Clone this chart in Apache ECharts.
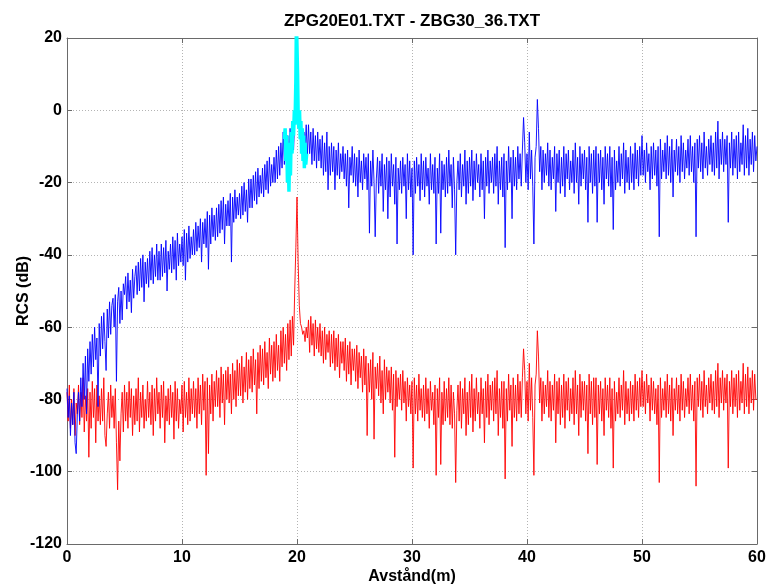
<!DOCTYPE html>
<html>
<head>
<meta charset="utf-8">
<script src="https://cdn.jsdelivr.net/npm/echarts@6/dist/echarts.min.js"></script>
<style>html,body{margin:0;padding:0;background:#fff}#c{width:767px;height:586px}</style>
</head>
<body>
<div id="c"></div>
<script>
// Sample spacing (m) of the two measured curves, starting at 0 m
const STEP = 0.1;
const xTicks = [0, 10, 20, 30, 40, 50, 60];
const yTicks = [-120, -100, -80, -60, -40, -20, 0, 20];

// Blue: ZPG20E01 RCS (dB)
const blueRCS = [
-77,-85,-79,-90,-81,-87,-78,-92,-95,-84,
-78,-86,-74,-82,-70,-80,-68,-84,-66,-75,
-64,-73,-62,-71,-60,-69,-63,-82,-59,-68,
-57,-66,-56,-64,-72,-55,-63,-53,-62,-54,
-52,-60,-51,-75,-53,-49,-59,-50,-58,-48,
-51,-46,-55,-45,-53,-47,-56,-44,-52,-46,
-43,-51,-42,-50,-41,-49,-40,-53,-42,-48,
-41,-49,-39,-47,-38,-48,-40,-46,-37,-47,
-39,-47,-37,-46,-38,-45,-36,-50,-39,-44,
-37,-45,-35,-44,-36,-47,-34,-43,-37,-42,
-35,-43,-33,-47,-34,-42,-32,-41,-35,-40,
-33,-40,-31,-39,-32,-38,-30,-42,-31,-37,
-30,-38,-28,-44,-29,-37,-27,-35,-29,-36,
-27,-35,-26,-34,-25,-33,-24,-37,-26,-32,
-25,-32,-23,-42,-24,-31,-22,-30,-24,-29,
-23,-30,-21,-29,-20,-28,-22,-31,-19,-27,
-19,-27,-18,-25,-17,-26,-16,-24,-18,-23,
-16,-24,-15,-22,-14,-23,-13,-21,-15,-20,
-13,-20,-11,-19,-10,-18,-9,-16,-6,-15,
-8,-16,-7,-14,-5,-12,-4,-11,-3,-2,
5,-3,-4,-8,-5,-12,-6,-11,-4,-13,
-4,-12,-6,-15,-5,-14,-7,-16,-6,-14,
-8,-16,-7,-18,-9,-17,-6,-22,-10,-18,
-9,-17,-10,-22,-11,-18,-9,-19,-12,-17,
-10,-19,-12,-21,-11,-27,-13,-18,-10,-20,
-12,-21,-13,-24,-11,-20,-14,-22,-12,-19,
-13,-22,-12,-34,-14,-21,-11,-20,-35,-19,
-13,-23,-14,-21,-12,-28,-15,-22,-13,-30,
-14,-24,-12,-21,-15,-26,-13,-37,-16,-22,
-14,-23,-13,-21,-15,-30,-12,-22,-14,-24,
-16,-40,-14,-23,-13,-21,-15,-25,-12,-22,
-14,-24,-13,-21,-16,-26,-12,-22,-15,-23,
-13,-37,-16,-23,-12,-34,-14,-22,-15,-24,
-13,-23,-11,-21,-15,-27,-13,-22,-40,-20,
-14,-22,-12,-24,-15,-21,-11,-26,-14,-23,
-13,-21,-11,-25,-14,-22,-12,-20,-15,-24,
-12,-22,-14,-30,-13,-21,-11,-23,-14,-20,
-13,-23,-12,-21,-10,-26,-14,-22,-13,-24,
-12,-38,-14,-22,-10,-20,-13,-30,-11,-21,
-13,-22,-10,-19,-12,-21,-11,-2,-9,-20,
-12,-22,-6,-19,-11,-21,-37,-13,-10,3,
-5,-17,-10,-22,-11,-20,-12,-18,-9,-21,
-11,-22,-13,-19,-10,-28,-12,-20,-11,-23,
-13,-21,-10,-24,-12,-19,-11,-22,-14,-20,
-11,-23,-9,-20,-13,-26,-10,-21,-12,-19,
-11,-22,-13,-31,-10,-20,-12,-23,-11,-21,
-10,-31,-12,-20,-11,-22,-13,-26,-10,-19,
-12,-21,-10,-24,-13,-33,-11,-22,-14,-20,
-10,-21,-12,-19,-9,-23,-11,-20,-13,-22,
-10,-20,-12,-22,-9,-19,-11,-21,-10,-18,
-7,-18,-11,-20,-9,-17,-12,-22,-10,-19,
-9,-18,-11,-21,-10,-35,-8,-19,-11,-17,
-9,-19,-7,-18,-10,-20,-8,-24,-11,-17,
-8,-18,-10,-20,-7,-17,-9,-19,-11,-16,
-8,-18,-7,-17,-10,-20,-9,-35,-8,-16,
-7,-17,-9,-19,-6,-16,-10,-18,-8,-15,
-7,-17,-9,-18,-6,-16,-3,-19,-8,-15,
-6,-17,-8,-15,-7,-31,-9,-16,-6,-18,
-8,-16,-7,-19,-6,-17,-9,-15,-4,-18,
-7,-16,-5,-18,-8,-15,-6,-17,-7,-14,
-10
];

// Red: ZBG30_36 RCS (dB)
const redRCS = [
-78,-86,-76,-88,-80,-87,-77,-90,-81,-84,
-76,-87,-78,-85,-74,-89,-79,-86,-77,-96,
-78,-88,-75,-85,-77,-92,-76,-86,-79,-87,
-77,-86,-74,-90,-93,-84,-78,-88,-76,-85,
-79,-88,-77,-92,-105,-86,-97,-84,-78,-89,
-76,-86,-78,-88,-75,-85,-77,-90,-79,-87,
-77,-86,-74,-89,-78,-85,-76,-88,-80,-86,
-75,-85,-78,-87,-76,-90,-77,-86,-74,-84,
-78,-88,-76,-85,-75,-92,-79,-86,-77,-87,
-76,-85,-78,-91,-75,-86,-77,-88,-80,-84,
-76,-89,-75,-85,-78,-87,-74,-86,-77,-84,
-75,-85,-77,-88,-74,-84,-76,-87,-73,-83,
-75,-101,-74,-95,-76,-84,-73,-86,-75,-82,
-72,-82,-74,-85,-71,-81,-73,-87,-72,-80,
-71,-81,-73,-84,-70,-80,-72,-82,-69,-79,
-70,-79,-68,-81,-71,-78,-67,-80,-69,-77,
-68,-78,-66,-76,-69,-84,-67,-77,-65,-75,
-66,-76,-64,-74,-67,-77,-63,-73,-65,-75,
-64,-74,-62,-72,-65,-75,-61,-71,-60,-70,
-62,-72,-59,-69,-58,-68,-57,-65,-50,-38,
-24,-42,-54,-59,-60,-62,-61,-64,-60,-63,
-58,-67,-57,-65,-59,-68,-58,-66,-60,-67,
-59,-68,-61,-70,-60,-69,-62,-67,-61,-71,
-62,-70,-61,-72,-63,-71,-62,-74,-64,-70,
-64,-72,-63,-75,-65,-73,-64,-76,-66,-72,
-66,-75,-65,-77,-67,-74,-68,-78,-66,-76,
-68,-90,-70,-78,-69,-80,-67,-91,-71,-77,
-70,-79,-68,-81,-72,-84,-69,-80,-71,-78,
-72,-81,-71,-83,-73,-96,-72,-82,-74,-80,
-73,-83,-72,-81,-75,-86,-74,-82,-76,-84,
-75,-99,-74,-84,-76,-86,-73,-83,-77,-85,
-76,-86,-74,-84,-77,-88,-75,-83,-78,-87,
-76,-101,-77,-85,-74,-98,-78,-87,-75,-86,
-77,-85,-74,-87,-76,-88,-78,-84,-103,-83,
-76,-86,-75,-88,-77,-84,-74,-90,-78,-87,
-75,-85,-73,-89,-77,-86,-74,-84,-78,-88,
-74,-84,-77,-92,-75,-85,-73,-87,-76,-83,
-75,-86,-74,-84,-72,-90,-77,-85,-75,-88,
-75,-102,-77,-86,-73,-83,-76,-93,-74,-85,
-76,-86,-73,-84,-75,-85,-74,-66,-72,-84,
-75,-86,-70,-83,-74,-85,-101,-76,-73,-61,
-68,-81,-74,-86,-75,-84,-76,-82,-72,-85,
-75,-86,-76,-83,-73,-92,-75,-84,-74,-87,
-76,-85,-73,-88,-75,-83,-74,-86,-77,-84,
-74,-87,-72,-84,-76,-90,-73,-85,-75,-83,
-75,-86,-76,-95,-73,-84,-75,-87,-74,-85,
-74,-98,-76,-84,-75,-86,-77,-90,-74,-83,
-76,-85,-74,-88,-77,-99,-75,-86,-78,-84,
-74,-85,-76,-83,-72,-87,-75,-84,-77,-86,
-75,-84,-76,-86,-73,-83,-75,-85,-74,-82,
-72,-82,-75,-84,-73,-81,-76,-86,-74,-83,
-75,-84,-77,-87,-76,-103,-74,-85,-77,-83,
-75,-85,-73,-84,-76,-86,-74,-90,-77,-83,
-74,-84,-76,-86,-73,-83,-75,-85,-77,-82,
-74,-84,-73,-83,-76,-86,-75,-104,-74,-82,
-73,-83,-75,-85,-72,-82,-76,-84,-74,-81,
-73,-83,-75,-84,-72,-82,-70,-85,-74,-81,
-72,-83,-74,-81,-73,-99,-75,-82,-72,-84,
-74,-82,-73,-85,-72,-83,-75,-81,-70,-84,
-73,-82,-71,-84,-74,-81,-72,-83,-73,-80,
-80
];

// Cyan: highlighted target window around 20 m
const cyanX = [18.9,18.97,19.03,19.1,19.17,19.23,19.3,19.37,19.43,19.5,19.57,19.63,19.7,19.77,19.83,19.9,19.95,20.0,20.05,20.1,20.16,20.22,20.28,20.34,20.4,20.46,20.52,20.58,20.64,20.7,20.76,20.84];
const cyanY = [-8,-5,-14,-7,-20,-10,-22.5,-9,-18,-6,-12,-3,-7,0,-4,8,25,25,10,-1,-5,0,-8,-3,-12,-5,-14,-7,-16,-9,-15,-12];

function pairs(vals) { return vals.map((v, i) => [+(i * STEP).toFixed(2), v]); }

const chart = echarts.init(document.getElementById('c'), null, { renderer: 'canvas' });
const font = 'Liberation Sans, Arial, sans-serif';
const gridLine = { show: true, lineStyle: { color: '#b4b4b4', type: [1, 2], width: 1 } };
const axisLine = { show: true, onZero: false, lineStyle: { color: '#6a6a6a', width: 1 } };
const tick = { show: true, inside: true, length: 5, lineStyle: { color: '#6a6a6a' } };
const lbl = { fontFamily: font, fontWeight: 'bold', fontSize: 16, color: '#000' };

chart.setOption({
  animation: false,
  backgroundColor: '#fff',
  title: {
    text: 'ZPG20E01.TXT - ZBG30_36.TXT',
    left: 407, top: 8, textAlign: 'center',
    textStyle: { fontFamily: font, fontWeight: 'bold', fontSize: 17, color: '#000' }
  },
  grid: { left: 67, right: 10, top: 38, bottom: 42, show: false, containLabel: false, outerBoundsMode: 'none' },
  xAxis: [{
    type: 'value', min: 0, max: 60, interval: 10,
    name: 'Avstånd(m)', nameLocation: 'middle', nameGap: 25, nameMoveOverlap: false,
    nameTextStyle: lbl,
    axisLine: axisLine, axisTick: tick, splitLine: gridLine,
    axisLabel: Object.assign({ margin: 6, customValues: xTicks, formatter: v => String(v) }, lbl)
  }, {
    type: 'value', min: 0, max: 60, interval: 10, position: 'top',
    axisLine: axisLine, axisTick: tick, axisLabel: { show: false }, splitLine: { show: false }
  }],
  yAxis: [{
    type: 'value', min: -120, max: 20, interval: 20,
    name: 'RCS (dB)', nameLocation: 'middle', nameGap: 35, nameRotate: 90, nameMoveOverlap: false,
    nameTextStyle: lbl,
    axisLine: axisLine, axisTick: tick, splitLine: gridLine,
    axisLabel: Object.assign({ margin: 5, customValues: yTicks, formatter: v => String(v) }, lbl)
  }, {
    type: 'value', min: -120, max: 20, interval: 20, position: 'right',
    axisLine: axisLine, axisTick: tick, axisLabel: { show: false }, splitLine: { show: false }
  }],
  series: [
    { type: 'line', name: 'ZBG30_36', data: pairs(redRCS), showSymbol: false, symbol: 'none',
      lineStyle: { color: '#ff0000', width: 0.9 }, clip: true, z: 2 },
    { type: 'line', name: 'ZPG20E01', data: pairs(blueRCS), showSymbol: false, symbol: 'none',
      lineStyle: { color: '#0000ff', width: 0.9 }, clip: true, z: 3 },
    { type: 'line', name: 'target', data: cyanX.map((x, i) => [x, cyanY[i]]), showSymbol: false, symbol: 'none',
      lineStyle: { color: '#00ffff', width: 3.5 }, clip: true, z: 4 }
  ]
});
</script>
</body>
</html>
